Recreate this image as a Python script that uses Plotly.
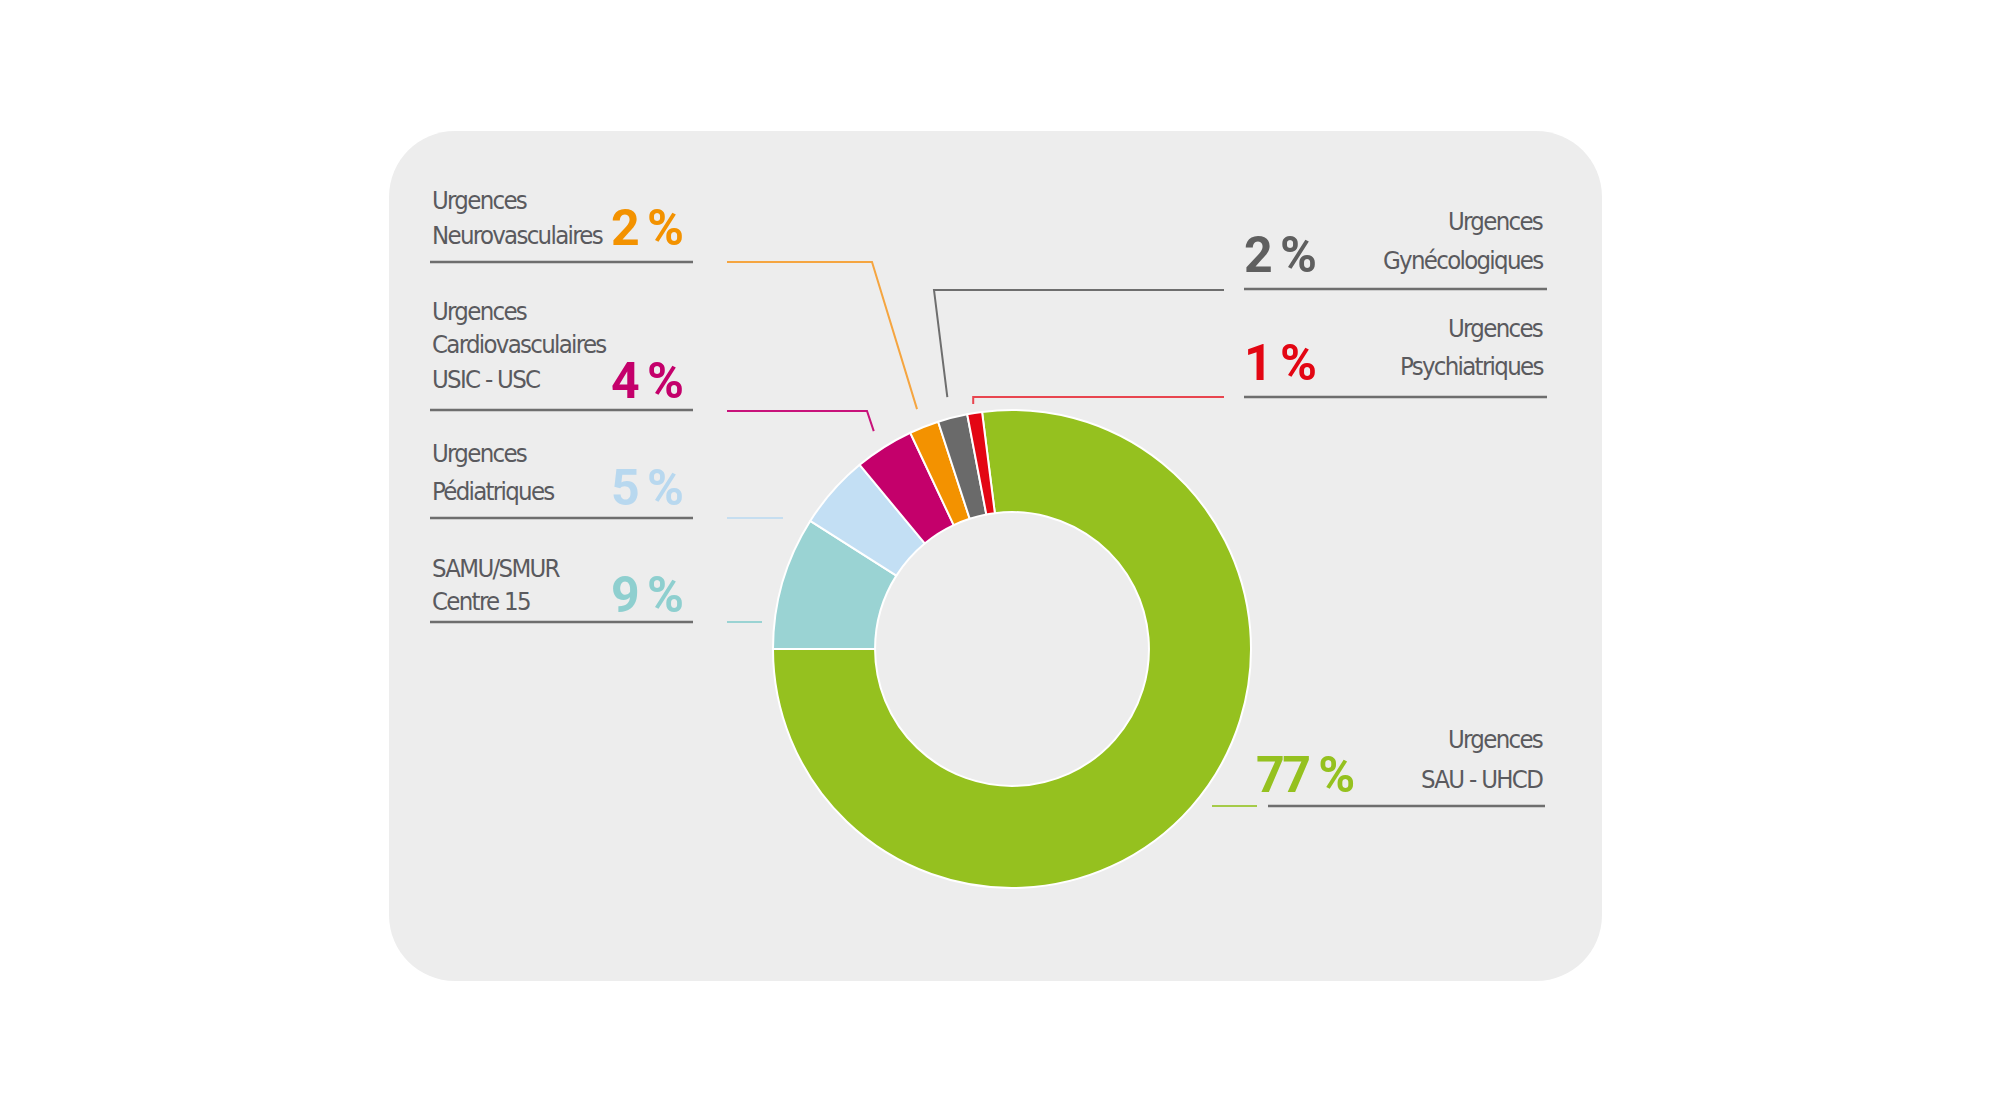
import math
import plotly.graph_objects as go

W, H = 2000, 1109

# ---------------- data ----------------
categories = ["Urgences SAU - UHCD", "SAMU/SMUR Centre 15", "Urgences Pédiatriques",
              "Urgences Cardiovasculaires USIC - USC", "Urgences Neurovasculaires",
              "Urgences Gynécologiques", "Urgences Psychiatriques"]
values = [77, 9, 5, 4, 2, 2, 1]
label_lines = [["Urgences", "SAU - UHCD"], ["SAMU/SMUR", "Centre 15"],
               ["Urgences", "Pédiatriques"],
               ["Urgences", "Cardiovasculaires", "USIC - USC"],
               ["Urgences", "Neurovasculaires"], ["Urgences", "Gynécologiques"],
               ["Urgences", "Psychiatriques"]]
pct_labels = ["77 %", "9 %", "5 %", "4 %", "2 %", "2 %", "1 %"]

# ---------------- styles ----------------
slice_colors = ["#95C11F", "#9AD3D3", "#C3DFF4", "#C4006B", "#F39200", "#6A6A6A", "#E30613"]
pct_colors = ["#95C11F", "#8ECFCF", "#B8D8EF", "#C4006B", "#F39200", "#5F5F5F", "#E30613"]
leader_colors = ["#A5CB48", "#9AD3D3", "#C6DEF0", "#C8127A", "#F5A540", "#6E6E6E", "#E8454F"]
TEXT_COLOR = "#5A5A5E"
RULE_COLOR = "#6E6E6E"
LABEL_FONT = "DejaVu Sans Condensed, Roboto, sans-serif"
PCT_FONT = "Roboto, DejaVu Sans Condensed, sans-serif"
LABEL_SIZE = 25.5
LABEL_SPACING = -1.7
PCT_SIZE = 50
PCT_SPACING = -2.5

CX, CY, R = 1012, 649, 239
HOLE = 0.573
ROTATION = -7.2

# layout of each label block (pixels)
layout_spec = [
    dict(side="right", tx=1545, px=1355, base=[748, 788], pbase=792, rule=806, rx=(1268, 1545),
         leader=[(1212, 806), (1257, 806)]),
    dict(side="left", tx=430, px=684, base=[577, 610], pbase=612, rule=622, rx=(430, 693),
         leader=[(727, 622), (762, 622)]),
    dict(side="left", tx=430, px=684, base=[462, 500], pbase=505, rule=518, rx=(430, 693),
         leader=[(727, 518), (783, 518)]),
    dict(side="left", tx=430, px=684, base=[320, 353, 388], pbase=398, rule=410, rx=(430, 693),
         leader=[(727, 411), (867, 411), ("END", 258)]),
    dict(side="left", tx=430, px=684, base=[209, 244], pbase=245, rule=262, rx=(430, 693),
         leader=[(727, 262), (872, 262), ("END", 258)]),
    dict(side="right", tx=1545, px=1317, base=[230, 269], pbase=272, rule=289, rx=(1244, 1547),
         leader=[(1224, 290), (934, 290), ("END", 260)]),
    dict(side="right", tx=1545, px=1317, base=[337, 375], pbase=380, rule=397, rx=(1244, 1547),
         leader=[(1224, 397), ("ELBOW", 397), ("END", 248)]),
]


def fx(x):
    return x / W


def fy(y):
    return 1 - y / H


# mid angles of slices (clockwise from 12 o'clock)
total = sum(values)
mids = []
acc = ROTATION
for v in values:
    span = 360.0 * v / total
    mids.append(acc + span / 2)
    acc += span


def end_point(i, r):
    a = math.radians(mids[i])
    return (CX + r * math.sin(a), CY - r * math.cos(a))


fig = go.Figure()
fig.add_trace(go.Pie(
    labels=categories, values=values, sort=False, direction="clockwise",
    rotation=ROTATION, hole=HOLE, textinfo="none", hoverinfo="label+percent",
    marker=dict(colors=slice_colors, line=dict(color="white", width=2)),
    domain=dict(x=[fx(CX - R), fx(CX + R)], y=[fy(CY + R), fy(CY - R)]),
    showlegend=False,
))

shapes = []
# rounded background panel
x0, y0, x1, y1, r = 389, 131, 1602, 981, 66
k = 0.5523 * r


def P(x, y):
    return f"{fx(x):.6f},{fy(y):.6f}"


path = (f"M {P(x0 + r, y0)} L {P(x1 - r, y0)} C {P(x1 - r + k, y0)} {P(x1, y0 + r - k)} {P(x1, y0 + r)} "
        f"L {P(x1, y1 - r)} C {P(x1, y1 - r + k)} {P(x1 - r + k, y1)} {P(x1 - r, y1)} "
        f"L {P(x0 + r, y1)} C {P(x0 + r - k, y1)} {P(x0, y1 - r + k)} {P(x0, y1 - r)} "
        f"L {P(x0, y0 + r)} C {P(x0, y0 + r - k)} {P(x0 + r - k, y0)} {P(x0 + r, y0)} Z")
shapes.append(dict(type="path", xref="paper", yref="paper", path=path,
                   fillcolor="#EDEDED", line=dict(width=0), layer="below"))

annotations = []
for i, spec in enumerate(layout_spec):
    # rule under label
    shapes.append(dict(type="line", xref="paper", yref="paper",
                       x0=fx(spec["rx"][0]), x1=fx(spec["rx"][1]),
                       y0=fy(spec["rule"]), y1=fy(spec["rule"]),
                       line=dict(color=RULE_COLOR, width=2.5), layer="above"))
    # leader line
    endpt = None
    for p in spec["leader"]:
        if p[0] == "END":
            endpt = end_point(i, p[1])
    pts = []
    for p in spec["leader"]:
        if p[0] == "END":
            pts.append(endpt)
        elif p[0] == "ELBOW":
            pts.append((endpt[0], p[1]))
        else:
            pts.append(p)
    d = "M " + " L ".join(P(x, y) for x, y in pts)
    shapes.append(dict(type="path", xref="paper", yref="paper", path=d,
                       line=dict(color=leader_colors[i], width=2), layer="above"))
    # text lines
    for line, b in zip(label_lines[i], spec["base"]):
        annotations.append(dict(
            xref="paper", yref="paper", x=fx(spec["tx"]),
            y=fy(b - 0.346 * LABEL_SIZE), yanchor="middle",
            xanchor="left" if spec["side"] == "left" else "right",
            text=f'<span style="letter-spacing:{LABEL_SPACING}px">{line}</span>',
            showarrow=False,
            font=dict(family=LABEL_FONT, size=LABEL_SIZE, color=TEXT_COLOR)))
    # percentage
    annotations.append(dict(
        xref="paper", yref="paper", x=fx(spec["px"]),
        y=fy(spec["pbase"] - 0.342 * PCT_SIZE), yanchor="middle", xanchor="right",
        text=f'<span style="letter-spacing:{PCT_SPACING}px">{pct_labels[i]}</span>',
        showarrow=False,
        font=dict(family=PCT_FONT, size=PCT_SIZE, color=pct_colors[i], weight=700)))

fig.update_layout(
    width=W, height=H, autosize=False,
    margin=dict(l=0, r=0, t=0, b=0),
    paper_bgcolor="white", plot_bgcolor="white",
    shapes=shapes, annotations=annotations,
)

fig.write_html("out.html")
